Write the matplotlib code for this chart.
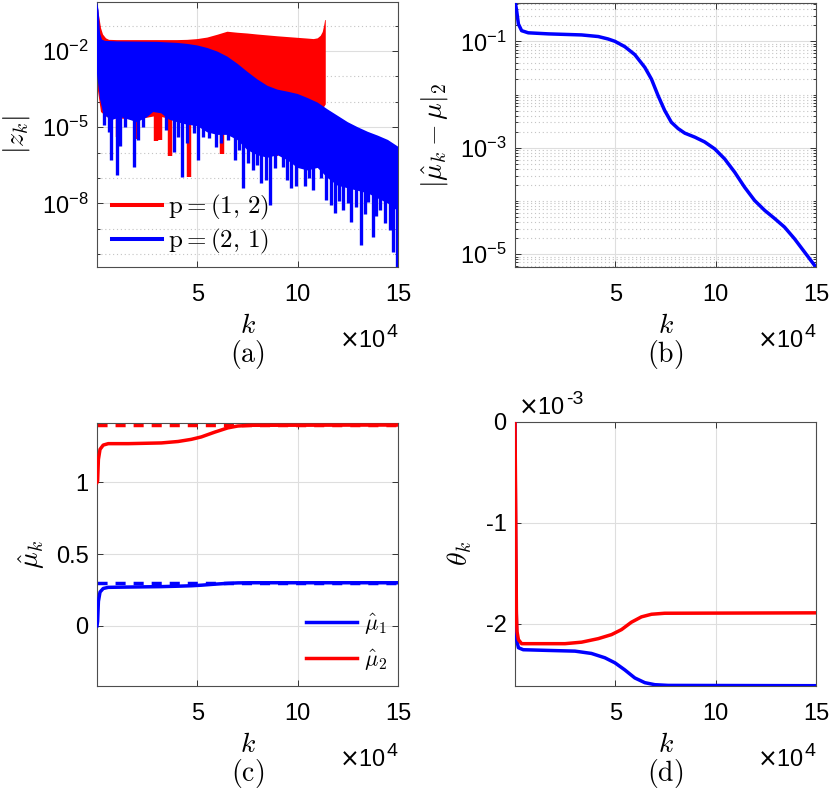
import numpy as np
import matplotlib
matplotlib.use('Agg')
import matplotlib.pyplot as plt
from matplotlib.lines import Line2D

plt.rcParams['font.family'] = ['Liberation Sans', 'DejaVu Sans']
plt.rcParams['mathtext.fontset'] = 'custom'
plt.rcParams['mathtext.rm'] = 'Liberation Sans'
plt.rcParams['mathtext.it'] = 'Liberation Sans:italic'
plt.rcParams['mathtext.bf'] = 'Liberation Sans:bold'

# ---------------- data (k in units of 1e4) ----------------
# (a) |z_k| envelopes (log10 values)
red_up_k = [0, 0.1, 0.2, 0.3, 0.45, 0.6, 1, 2, 3, 4, 4.5, 5, 5.5, 6, 6.5, 7, 7.5, 8, 9, 10, 10.5,
            10.8, 11.0, 11.15, 11.25, 11.32, 11.37, 11.4]
red_up_log = [-0.07, -0.6, -1.1, -1.35, -1.5, -1.56, -1.57, -1.57, -1.57, -1.57, -1.56, -1.53, -1.47,
              -1.36, -1.24, -1.28, -1.31, -1.35, -1.42, -1.48, -1.51, -1.53, -1.5, -1.4, -1.25, -1.0,
              -0.78, -0.78]
red_lo_k = [0, 0.2, 0.5, 1, 2, 3, 4, 5, 6, 7, 8, 9, 10, 11, 11.4]
red_lo_log = [-3.3, -4.4, -4.6, -4.65, -4.7, -4.55, -4.75, -4.95, -5.2, -5.3, -5.3, -5.3, -5.2, -4.6, -4.1]
red_spike_k = [1.05, 1.95, 2.95, 3.15, 3.65, 4.6, 6.23, 8.9]
red_spike_log = [-5.4, -5.45, -5.55, -5.5, -6.15, -6.94, -6.04, -6.15]

blue_up_k = [0, 0.08, 0.15, 0.25, 0.4, 1, 2, 3, 4, 4.5, 5, 5.5, 6, 6.5, 7, 7.5, 8, 8.5, 9, 9.5, 10,
             10.5, 11, 11.5, 12, 12.5, 13, 13.5, 14, 14.5, 15]
blue_up_log = [-0.07, -0.4, -1.3, -1.55, -1.6, -1.62, -1.63, -1.64, -1.68, -1.72, -1.78, -1.88, -2.02,
               -2.22, -2.5, -2.82, -3.12, -3.37, -3.52, -3.6, -3.69, -3.85, -4.03, -4.3, -4.55, -4.8,
               -5.0, -5.18, -5.33, -5.5, -5.76]
blue_lo_k = [0, 0.15, 0.3, 0.5, 0.8, 1.2, 1.6, 2.0, 2.5, 2.8, 3.2, 3.6, 4.0, 4.5, 5.0, 5.5, 6.0, 6.5,
             7.0, 7.5, 8.0, 8.5, 9.0, 9.5, 10.0, 10.5, 11.0, 11.5, 12.0, 12.5, 13.0, 13.5, 14.0, 14.5, 15.0]
blue_lo_log = [-2.9, -3.9, -4.4, -4.6, -4.7, -4.6, -4.7, -4.8, -4.6, -4.4, -4.45, -4.7, -4.8, -4.9,
               -4.95, -5.2, -5.3, -5.3, -5.5, -5.9, -6.1, -6.2, -6.1, -6.3, -6.6, -6.7, -6.6, -7.0,
               -7.3, -7.4, -7.5, -7.6, -7.8, -8.0, -8.3]
blue_spike_k = [0.35, 0.6, 0.72, 0.98, 1.15, 1.4, 1.82, 2.02, 2.3, 3.43, 3.85, 4.05, 4.22, 4.5, 4.85,
                5.05, 5.3, 5.6, 5.93, 6.2, 6.52, 6.9, 7.1, 7.3, 7.52, 7.77, 7.95, 8.18, 8.4, 8.63,
                8.85, 9.27, 9.47, 9.68, 9.93, 10.35, 10.55, 10.77, 11.15, 11.4, 11.68, 11.85, 12.05,
                12.27, 12.5, 12.68, 12.93, 13.15, 13.35, 13.52, 13.73, 13.9, 14.1, 14.35, 14.6,
                14.77, 14.93]
blue_spike_log = [-4.9, -5.17, -6.29, -6.88, -5.73, -5.0, -6.57, -5.5, -5.0, -5.1, -5.96, -5.4, -6.94,
                  -5.6, -5.24, -6.3, -5.37, -5.43, -5.76, -5.6, -5.5, -6.29, -5.9, -7.4, -6.42, -6.68,
                  -6.5, -7.2, -7.07, -8.06, -6.6, -6.55, -7.07, -7.4, -7.33, -7.33, -7.0, -7.46, -7.0,
                  -7.87, -8.06, -8.39, -7.9, -8.26, -8.0, -8.71, -8.13, -9.63, -8.4, -7.93, -9.3,
                  -8.5, -8.26, -8.78, -9.04, -9.9, -10.5]

# (b) ||mu_hat - mu||_2 (log10)
err_k = [0, 0.08, 0.17, 0.33, 0.66, 1.66, 3.32, 4.15, 4.64, 4.98, 5.47, 5.97, 6.47, 6.8, 7.13, 7.46,
         7.79, 8.13, 8.46, 8.96, 9.45, 9.95, 10.45, 10.95, 11.44, 11.94, 12.44, 12.94, 13.43, 13.93,
         14.43, 14.93, 15]
err_log = [-0.24, -0.42, -0.675, -0.8, -0.84, -0.86, -0.88, -0.91, -0.956, -1.0, -1.1, -1.25, -1.49,
           -1.71, -2.02, -2.3, -2.52, -2.64, -2.725, -2.8, -2.89, -3.02, -3.21, -3.46, -3.74, -3.99,
           -4.175, -4.33, -4.49, -4.71, -4.96, -5.21, -5.24]

# (c) mu_hat estimates
mu_true = [0.3, 1.4]
mu2_k = [0, 0.03, 0.07, 0.15, 0.31, 0.56, 1.56, 3.21, 4.04, 4.7, 5.2, 5.86, 6.52, 7.02, 7.68, 15]
mu2_v = [1.0, 1.01, 1.16, 1.23, 1.26, 1.27, 1.27, 1.275, 1.285, 1.30, 1.317, 1.35, 1.38, 1.393,
         1.398, 1.40]
mu1_k = [0, 0.03, 0.07, 0.15, 0.31, 0.56, 1.56, 3.21, 4.04, 4.7, 5.2, 5.86, 6.52, 7.02, 7.68, 15]
mu1_v = [0.0, 0.03, 0.17, 0.235, 0.26, 0.268, 0.27, 0.273, 0.276, 0.279, 0.283, 0.29, 0.296, 0.299,
         0.30, 0.30]

# (d) theta_k (units of 1e-3)
th_red_k = [0, 0.04, 0.07, 0.1, 0.17, 0.33, 1.0, 2.49, 3.32, 4.15, 4.81, 5.31, 5.8, 6.3, 6.8, 7.46, 15]
th_red_v = [0, -1.0, -1.9, -2.08, -2.16, -2.2, -2.2, -2.2, -2.185, -2.15, -2.11, -2.06, -1.987,
            -1.934, -1.908, -1.898, -1.894]
th_blue_k = [0, 0.03, 0.08, 0.17, 0.41, 1.66, 2.99, 3.81, 4.48, 4.98, 5.47, 5.97, 6.47, 6.97, 7.63, 15]
th_blue_v = [0, -1.3, -2.16, -2.24, -2.26, -2.267, -2.274, -2.297, -2.34, -2.39, -2.46, -2.54,
             -2.587, -2.607, -2.614, -2.617]

xticks = [5, 10, 15]
xticklabels = ['5', '10', '15']

RED = '#ff0000'
BLUE = '#0000ff'
FS = 17      # tick labels (sans)
FL = 20      # math labels (Computer Modern)
W, H = 830, 795

fig = plt.figure(figsize=(W / 100, H / 100), dpi=100)


def add_ax(left, top, right, bottom):
    return fig.add_axes([left / W, 1 - bottom / H, (right - left) / W, (bottom - top) / H])


def style(ax):
    for s in ax.spines.values():
        s.set_color('#4d4d4d')
        s.set_linewidth(0.8)
    ax.tick_params(which='both', direction='in', top=True, right=True, color='#333333',
                   labelsize=FS, width=0.7)
    ax.tick_params(which='major', length=4)
    ax.tick_params(which='minor', length=2)
    ax.tick_params(axis='x', pad=12)
    ax.tick_params(axis='y', pad=6)
    ax.set_axisbelow(True)
    ax.grid(True, which='major', color='#dedede', lw=0.8, ls='-')
    ax.set_xlim(0, 15)
    ax.set_xticks(xticks)
    ax.set_xticklabels(xticklabels)


def times10(ax, x, y, exp, ha):
    t = ax.text(x, y, r'$\times$10', transform=ax.transAxes, ha=ha, va='baseline', fontsize=FS,
                math_fontfamily='dejavusans')
    ax.annotate(exp, xy=(1, 1), xycoords=t, xytext=(0.5, -2), textcoords='offset points',
                ha='left', va='center', fontsize=14)


def decorate(ax, letter, ylabel, ylab_x, height):
    ax.text(0.5, -66 / height, r'$k$', transform=ax.transAxes, ha='center', va='baseline',
            fontsize=FL, math_fontfamily='cm')
    times10(ax, 1 - 12 / 301, -80 / height, '4', 'right')
    ax.text(0.5, -95 / height, r'$\mathrm{(' + letter + r')}$', transform=ax.transAxes,
            ha='center', va='baseline', fontsize=FL, math_fontfamily='cm')
    ax.text(ylab_x, 0.5, ylabel, transform=ax.transAxes, ha='center', va='center',
            rotation=90, fontsize=FL, math_fontfamily='cm')


# ---------------- (a) ----------------
axa = add_ax(97, 2, 398, 267)
style(axa)
axa.set_yscale('log')
xs = np.concatenate([red_up_k, red_lo_k[::-1]])
ys = 10 ** np.concatenate([red_up_log, red_lo_log[::-1]])
axa.fill(xs, ys, color=RED, lw=0, zorder=2)
rbase = np.interp(red_spike_k, red_lo_k, red_lo_log) + 0.2
axa.vlines(red_spike_k, 10 ** rbase, 10 ** np.array(red_spike_log), color=RED, lw=3.2, zorder=2)
xs = np.concatenate([blue_up_k, blue_lo_k[::-1]])
ys = 10 ** np.concatenate([blue_up_log, blue_lo_log[::-1]])
axa.fill(xs, ys, color=BLUE, lw=0, zorder=3)
bbase = np.interp(blue_spike_k, blue_lo_k, blue_lo_log) + 0.2
axa.vlines(blue_spike_k, 10 ** bbase, 10 ** np.array(blue_spike_log), color=BLUE, lw=2.4, zorder=3)
axa.set_ylim(10 ** -10.5, 10 ** -0.07)
axa.set_yticks([1e-8, 1e-5, 1e-2])
axa.set_yticklabels([r'$10^{-8}$', r'$10^{-5}$', r'$10^{-2}$'])
axa.set_yticks([1e-10, 1e-9, 1e-7, 1e-6, 1e-4, 1e-3, 1e-1], minor=True)
axa.set_yticklabels([], minor=True)
axa.grid(True, which='minor', axis='y', color='#c4c4c4', lw=0.8, ls=(0, (1, 2.5)))
handles = [Line2D([], [], color=RED, lw=2.9), Line2D([], [], color=BLUE, lw=2.9)]
leg = axa.legend(handles, [r'$\mathrm{p} = (1,\,2)$', r'$\mathrm{p} = (2,\,1)$'],
                 loc='lower left', bbox_to_anchor=(0.0, -0.016), frameon=False, fontsize=18,
                 handlelength=2.0, handletextpad=0.25, labelspacing=0.2, borderaxespad=0.2)
for t in leg.get_texts():
    t.set_math_fontfamily('cm')
decorate(axa, 'a', r'$|z_k|$', -0.266, 265)

# ---------------- (b) ----------------
axb = add_ax(515, 3, 816, 267)
style(axb)
axb.set_yscale('log')
axb.plot(err_k, 10 ** np.array(err_log), color=BLUE, lw=2.5, zorder=3)
axb.set_yticks([1e-5, 1e-3, 1e-1])
axb.set_yticklabels([r'$10^{-5}$', r'$10^{-3}$', r'$10^{-1}$'])
minors = [m * 10.0 ** e for e in range(-6, 1) for m in range(1, 10)
          if not (m == 1 and e in (-5, -3, -1))]
axb.set_yticks(minors, minor=True)
axb.set_yticklabels([], minor=True)
axb.set_ylim(10 ** -5.24, 10 ** -0.28)
axb.grid(True, which='minor', axis='y', color='#c4c4c4', lw=0.8, ls=(0, (1, 2.5)))
decorate(axb, 'b', r'$|\hat{\mu}_k-\mu|_2$', -0.266, 264)

# ---------------- (c) ----------------
axc = add_ax(97, 423, 398, 686)
style(axc)
axc.axhline(mu_true[0], color=BLUE, lw=2.5, ls=(0, (2.9, 2.3)), zorder=2)
axc.axhline(mu_true[1], color=RED, lw=2.5, ls=(0, (2.9, 2.3)), zorder=2)
l1, = axc.plot(mu1_k, mu1_v, color=BLUE, lw=2.5, zorder=3)
l2, = axc.plot(mu2_k, mu2_v, color=RED, lw=2.5, zorder=3)
axc.set_ylim(-0.42, 1.414)
axc.set_yticks([0, 0.5, 1])
axc.set_yticklabels(['0', '0.5', '1'])
leg = axc.legend([l1, l2], [r'$\hat{\mu}_1$', r'$\hat{\mu}_2$'], loc='lower right',
                 bbox_to_anchor=(1.008, 0.0), frameon=False, fontsize=16, handlelength=2.3,
                 handletextpad=0.3, labelspacing=0.46, borderaxespad=0.2)
for t in leg.get_texts():
    t.set_math_fontfamily('cm')
decorate(axc, 'c', r'$\hat{\mu}_k$', -0.216, 263)

# ---------------- (d) ----------------
axd = add_ax(515, 422, 816, 686)
style(axd)
axd.plot(th_blue_k, th_blue_v, color=BLUE, lw=2.5, zorder=3)
axd.plot(th_red_k, th_red_v, color=RED, lw=2.5, zorder=3)
axd.set_ylim(-2.62, 0)
axd.set_yticks([-2, -1, 0])
axd.set_yticklabels(['-2', '-1', '0'])
times10(axd, 0.01, 1 + 8 / 264, '-3', 'left')
decorate(axd, 'd', r'$\theta_k$', -0.183, 264)

fig.savefig('out.png', dpi=100)
